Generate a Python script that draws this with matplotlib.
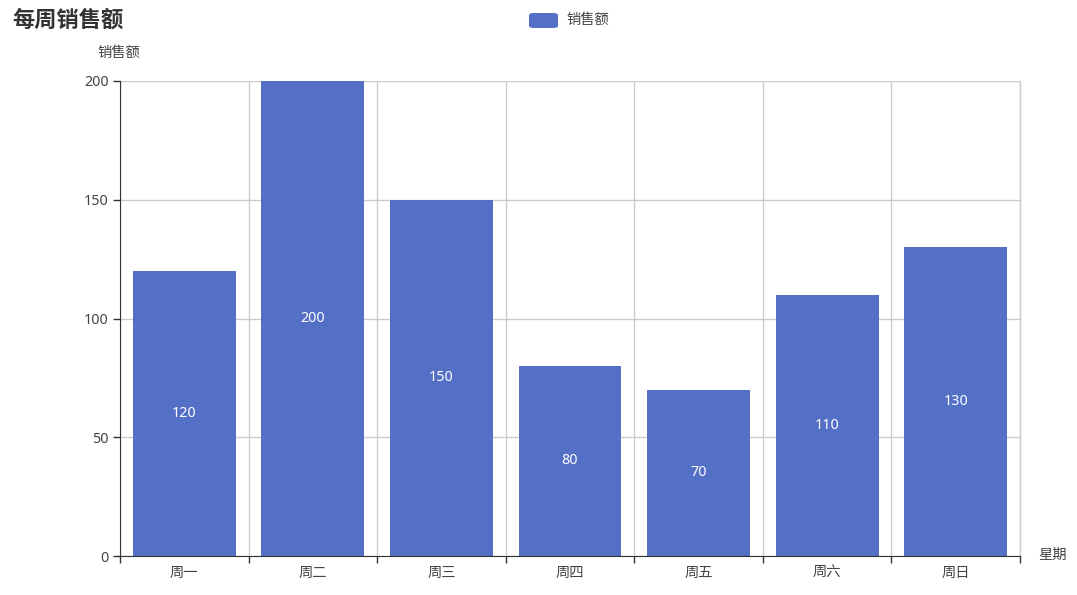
import matplotlib
matplotlib.use("Agg")
import matplotlib.pyplot as plt
from matplotlib.patches import FancyBboxPatch
import numpy as np

plt.rcParams['font.family'] = ['Noto Sans CJK SC', 'DejaVu Sans']

categories = ['周一', '周二', '周三', '周四', '周五', '周六', '周日']
sales = [120, 200, 150, 80, 70, 110, 130]
yticks = [0, 50, 100, 150, 200]
title = '每周销售额'
series_name = '销售额'
x_name = '星期'
y_name = '销售额'

W, H = 1077, 595
fig = plt.figure(figsize=(W / 100, H / 100), dpi=100)
ax = fig.add_axes([120 / W, 1 - 556 / H, 900 / W, 475 / H])

bar_color = '#5470c6'
text_color = '#333333'
label_color = '#444444'
grid_color = '#cccccc'
fs = 10.3
num_family = ['Noto Sans', 'DejaVu Sans']

x = np.arange(len(categories))
bars = ax.bar(x, sales, width=0.8, color=bar_color, zorder=3)
for xi, v in zip(x, sales):
    ax.text(xi, v / 2, str(v), ha='center', va='center', color='white',
            fontsize=fs, family=num_family, zorder=4)

ax.set_xlim(-0.5, len(categories) - 0.5)
ax.set_ylim(0, 200)
ax.set_yticks(yticks)
ax.set_yticklabels([str(t) for t in yticks], family=num_family)
ax.set_xticks(x)
ax.set_xticklabels(categories)
ax.tick_params(axis='x', length=0, pad=7, colors=label_color, labelsize=fs)
ax.set_xticks(np.arange(-0.5, len(categories)), minor=True)
ax.tick_params(axis='x', which='minor', length=5, width=1, color='#333333', direction='out')
ax.tick_params(axis='y', length=5, width=1, color='#333333', pad=3, labelcolor=label_color, labelsize=fs)

ax.grid(True, axis='y', color=grid_color, linewidth=1, zorder=0)
ax.grid(True, axis='x', which='minor', color=grid_color, linewidth=1, zorder=0)
ax.grid(False, axis='x', which='major')

for s in ['top', 'right']:
    ax.spines[s].set_visible(False)
ax.axvline(len(categories) - 0.5, color=grid_color, linewidth=1, zorder=0, clip_on=False)
ax.spines['left'].set_color('#333333')
ax.spines['bottom'].set_color('#333333')
ax.spines['left'].set_zorder(5)
ax.spines['bottom'].set_zorder(5)

# axis names
fig.text(119 / W, 1 - 53 / H, y_name, ha='center', va='center', fontsize=fs, color=label_color)
fig.text(1038 / W, 1 - 555 / H, x_name, ha='left', va='center', fontsize=fs, color=label_color)

# title
fig.text(12 / W, 1 - 20 / H, title, ha='left', va='center', fontsize=16,
         fontweight='bold', color=text_color)

# legend
sw = FancyBboxPatch((529 / W, 1 - 28 / H), 29 / W, 15 / H,
                    boxstyle='round,pad=0,rounding_size=0.004',
                    transform=fig.transFigure, facecolor=bar_color, edgecolor='none')
fig.patches.append(sw)
fig.text(566 / W, 1 - 20 / H, series_name, ha='left', va='center', fontsize=fs, color=label_color)

fig.savefig('out.png', dpi=100)
